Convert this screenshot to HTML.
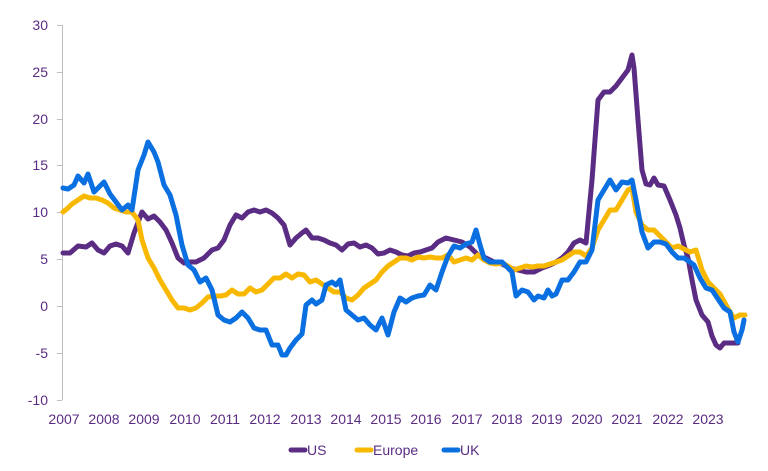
<!DOCTYPE html>
<html><head><meta charset="utf-8"><style>
body{margin:0;background:#fff;}
svg{display:block;font-family:"Liberation Sans Narrow","Liberation Sans",sans-serif;}
</style></head><body>
<svg width="768" height="471" viewBox="0 0 768 471">
<g stroke="#bfbfbf" stroke-width="1">
<line x1="62.5" y1="25" x2="62.5" y2="400"/>
<line x1="57" y1="25.5" x2="62" y2="25.5"/><line x1="57" y1="72.5" x2="62" y2="72.5"/>
<line x1="57" y1="119.5" x2="62" y2="119.5"/><line x1="57" y1="165.5" x2="62" y2="165.5"/>
<line x1="57" y1="212.5" x2="62" y2="212.5"/><line x1="57" y1="259.5" x2="62" y2="259.5"/>
<line x1="57" y1="306.5" x2="62" y2="306.5"/><line x1="57" y1="353.5" x2="62" y2="353.5"/>
<line x1="57" y1="400.5" x2="62" y2="400.5"/>
</g>
<g fill="#5B2C83" font-size="14" text-anchor="end">
<text x="48" y="30">30</text><text x="48" y="77">25</text><text x="48" y="124">20</text>
<text x="48" y="170">15</text><text x="48" y="217">10</text><text x="48" y="264">5</text>
<text x="48" y="311">0</text><text x="48" y="358">-5</text><text x="48" y="405">-10</text>
</g>
<g fill="#5B2C83" font-size="14" text-anchor="middle">
<text x="64" y="424">2007</text><text x="104" y="424">2008</text><text x="144" y="424">2009</text><text x="185" y="424">2010</text><text x="225" y="424">2011</text><text x="265" y="424">2012</text><text x="306" y="424">2013</text><text x="346" y="424">2014</text><text x="386" y="424">2015</text><text x="426" y="424">2016</text><text x="467" y="424">2017</text><text x="507" y="424">2018</text><text x="547" y="424">2019</text><text x="587" y="424">2020</text><text x="627" y="424">2021</text><text x="668" y="424">2022</text><text x="708" y="424">2023</text>
</g>
<g fill="none" stroke-width="5" stroke-linejoin="round" stroke-linecap="round">
<polyline stroke="#5B2C83" points="63,253 70,253 78,246 86,247 92,243 98,250 104,253 110,246 116,244 122,246 128,253 134,233 142,212 148,219 154,216 160,222 166,230 172,243 178,258 184,263 190,262 196,262 204,258 212,250 218,248 224,240 230,225 236,215 242,218 248,212 254,210 260,212 266,210 272,213 278,218 284,225 290,245 296,238 302,233 306,230 312,238 318,238 324,240 330,243 336,245 342,250 348,244 354,243 360,247 366,245 372,248 378,254 384,253 390,250 396,252 402,255 408,256 414,253 420,252 426,250 432,248 438,242 446,238 454,240 462,242 470,247 478,255 486,258 494,262 502,264 510,268 518,270 526,272 534,272 542,268 550,265 556,262 562,258 568,252 574,243 580,240 586,243 592,180 598,100 604,92 610,92 616,86 622,78 628,70 632,55 634,68 638,120 642,170 646,184 650,185 654,178 658,185 664,186 670,200 676,215 680,228 684,245 688,258 692,280 696,300 702,315 708,322 712,336 716,345 720,348 724,343 730,343 738,343"/>
<polyline stroke="#F9B800" points="63,212 68,208 72,204 78,200 84,196 90,198 96,198 102,200 108,203 114,208 120,210 126,212 132,212 138,220 142,240 148,258 154,268 160,280 166,290 172,300 178,308 184,308 190,310 196,308 202,303 208,297 214,296 220,296 226,295 232,290 238,294 244,294 250,288 256,292 262,290 268,284 274,278 280,278 286,274 292,278 298,274 304,275 310,282 316,280 322,284 328,288 334,292 340,292 346,298 352,300 358,295 364,288 370,284 376,280 382,272 388,266 394,262 400,258 406,258 412,260 418,257 424,258 430,257 436,258 442,258 448,255 454,262 460,260 466,258 472,260 478,255 484,260 490,263 496,264 502,263 508,266 514,270 520,268 526,266 532,267 538,266 544,266 550,264 556,262 562,260 568,256 574,252 580,252 586,256 592,248 598,230 604,220 610,210 616,210 622,200 628,190 632,188 636,212 642,225 648,230 654,230 660,236 666,242 672,248 678,246 684,249 690,252 696,250 702,270 708,282 714,288 720,294 726,305 730,312 734,318 740,315 745,315"/>
<polyline stroke="#0A6FE0" points="63,188 68,189 74,185 78,176 84,183 88,174 94,192 100,186 104,182 110,194 116,202 122,210 128,205 132,210 138,170 144,155 148,142 154,152 158,162 164,185 170,195 176,215 182,245 188,265 194,270 200,282 206,278 212,290 218,315 224,320 230,322 236,318 242,312 248,318 254,328 260,330 266,330 272,345 278,345 282,355 286,355 290,348 296,340 302,334 306,305 312,300 316,304 322,300 326,285 332,282 336,285 340,280 346,310 352,315 358,320 364,318 370,325 376,330 382,318 388,335 394,312 400,298 406,302 412,298 418,296 424,295 430,285 436,290 442,272 448,256 454,246 460,248 466,244 472,242 476,230 480,245 484,258 490,262 496,262 502,262 508,268 512,272 516,296 522,290 528,292 534,300 538,296 544,298 548,290 552,296 556,294 562,280 568,280 574,272 580,262 586,262 592,250 598,200 604,190 610,180 616,190 622,182 628,183 632,180 636,200 642,232 648,248 654,242 660,242 666,244 672,252 678,258 684,258 690,262 694,265 700,278 706,288 712,290 716,296 720,302 724,308 730,312 734,332 738,342 742,330 744,320"/>
</g>
<g stroke-width="5" stroke-linecap="round">
<line x1="291" y1="450" x2="305" y2="450" stroke="#5B2C83"/>
<line x1="357" y1="450" x2="371" y2="450" stroke="#F9B800"/>
<line x1="444" y1="450" x2="458" y2="450" stroke="#0A6FE0"/>
</g>
<g fill="#5B2C83" font-size="14">
<text x="307" y="455">US</text><text x="373" y="455">Europe</text><text x="460" y="455">UK</text>
</g>
</svg>
</body></html>
